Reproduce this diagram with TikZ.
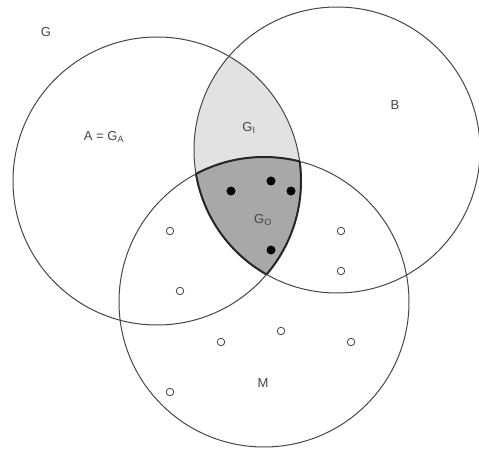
\documentclass[tikz,border=0pt]{standalone}
\usepackage{fontspec}
\setmainfont{Liberation Sans}
\usepackage{tikz}
\usetikzlibrary{positioning}
\definecolor{inkgrey}{RGB}{70,70,70}
\definecolor{lightfill}{RGB}{226,226,226}
\definecolor{darkfill}{RGB}{168,168,168}

\begin{document}
\begin{tikzpicture}[x=1pt, y=1pt,
    ring/.style={draw=inkgrey, line width=1pt},
    rim/.style={draw=black!85, line width=2pt},
    label/.style={font=\fontsize{13}{15}\selectfont, text=inkgrey, inner sep=0pt},
    fulldot/.style={circle, fill=black, inner sep=0pt, minimum size=9pt},
    opendot/.style={circle, draw=inkgrey, line width=0.8pt, fill=white, inner sep=0pt, minimum size=7.5pt}
]
    \useasboundingbox (0,0) rectangle (479,448);
    \def\circA{(157,267) circle[radius=144pt]}
    \def\circB{(337,298) circle[radius=143pt]}
    \def\circM{(264,146) circle[radius=145pt]}

    % G_I and G_O regions
    \begin{scope}
        \clip \circA; \clip \circB;
        \fill[lightfill] \circB;
        \fill[darkfill] \circM;
    \end{scope}

    \draw[ring] \circA;
    \draw[ring] \circB;
    \draw[ring] \circM;

    % bold border of G_O
    \begin{scope}
        \clip \circB; \clip \circM;
        \draw[rim] \circA;
    \end{scope}
    \begin{scope}
        \clip \circA; \clip \circM;
        \draw[rim] \circB;
    \end{scope}
    \begin{scope}
        \clip \circA; \clip \circB;
        \draw[rim] \circM;
    \end{scope}

    \node[label] (g)  at (46,416)  {G};
    \node[label] (a)  at (104,311) {A = G\textsubscript{A}};
    \node[label] (b)  at (395,343) {B};
    \node[label] (gi) at (249,320) {G\textsubscript{I}};
    \node[label] (go) at (263,228) {G\textsubscript{O}};
    \node[label] (m)  at (263,65)  {M};

    \foreach \x/\y [count=\i] in {231/257, 271/267, 291/257, 271/198}
        \node[fulldot] (in\i) at (\x,\y) {};
    \foreach \x/\y [count=\i] in {170/217, 341/217, 180/157, 341/177,
                                  281/117, 221/106, 351/106, 170/56}
        \node[opendot] (out\i) at (\x,\y) {};
\end{tikzpicture}
\end{document}
